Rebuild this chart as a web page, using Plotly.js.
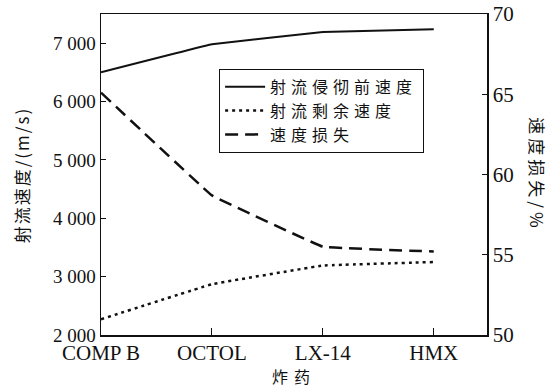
<!DOCTYPE html>
<html>
<head>
<meta charset="utf-8">
<script src="https://cdn.plot.ly/plotly-3.0.1.min.js"></script>
<style>
body { margin: 0; padding: 0; background: #fff; }
#chart { width: 555px; height: 387px; }
.legendtext { letter-spacing: 5px; }
.annotation .annotation-text { letter-spacing: 2px; }
.annotation[data-index="1"] .annotation-text { letter-spacing: 4px; }
.annotation[data-index="2"] .annotation-text { letter-spacing: 6px; }
</style>
</head>
<body>
<div id="chart"></div>
<script>
var categories = ['COMP B', 'OCTOL', 'LX-14', 'HMX'];
var jetBefore = [6500, 6980, 7190, 7240];
var jetResidual = [2270, 2870, 3190, 3250];
var speedLoss = [65.1, 58.7, 55.5, 55.2];
var leftTickVals = [2000, 3000, 4000, 5000, 6000, 7000];
var leftTickText = ['2 000', '3 000', '4 000', '5 000', '6 000', '7 000'];
var rightTickVals = [50, 55, 60, 65, 70];
var seriesNames = ['射流侵彻前速度', '射流剩余速度', '速度损失'];

var serif = 'Liberation Serif, Noto Sans CJK SC, serif';
var cjk = 'Noto Sans CJK SC, Liberation Serif, serif';
var xIdx = categories.map(function (c, i) { return i; });

var traces = [
  { x: xIdx, y: jetBefore, name: seriesNames[0], mode: 'lines', line: { color: '#111', width: 2, shape: 'spline', smoothing: 0.12 } },
  { x: xIdx, y: jetResidual, name: seriesNames[1], mode: 'lines', line: { color: '#111', width: 2.5, dash: '3px,4px', shape: 'spline', smoothing: 0.12 } },
  { x: xIdx, y: speedLoss, name: seriesNames[2], yaxis: 'y2', mode: 'lines', line: { color: '#111', width: 2.5, dash: '13px,7px', shape: 'spline', smoothing: 0.12 } }
];

var layout = {
  width: 555, height: 387,
  margin: { l: 101, r: 68, t: 14, b: 52 },
  paper_bgcolor: '#fff', plot_bgcolor: '#fff',
  font: { family: serif, color: '#111', size: 20 },
  showlegend: true,
  legend: {
    x: 0.306, y: 0.829, xanchor: 'left', yanchor: 'top',
    bordercolor: '#111', borderwidth: 1, bgcolor: '#fff',
    font: { family: cjk, size: 16, color: '#111' },
    tracegroupgap: 0, itemwidth: 40
  },
  xaxis: {
    range: [0, 3.48], tickvals: xIdx, ticktext: categories,
    showline: true, linecolor: '#111', linewidth: 1.5, mirror: true,
    ticks: 'inside', ticklen: 7, tickcolor: '#111', tickwidth: 1,
    showgrid: false, zeroline: false, ticklabelstandoff: -2,
    tickfont: { family: serif, size: 21 }
  },
  yaxis: {
    range: [2000, 7500], tickvals: leftTickVals, ticktext: leftTickText,
    showline: true, linecolor: '#111', linewidth: 1.5,
    ticks: 'inside', ticklen: 5, tickcolor: '#111', tickwidth: 1,
    showgrid: false, zeroline: false,
    tickfont: { family: serif, size: 19 }
  },
  yaxis2: {
    overlaying: 'y', side: 'right',
    range: [50, 70], tickvals: rightTickVals,
    showline: true, linecolor: '#111', linewidth: 1.5,
    ticks: 'inside', ticklen: 5, tickcolor: '#111', tickwidth: 1,
    showgrid: false, zeroline: false,
    tickfont: { family: serif, size: 21 }
  },
  annotations: [
    { text: '射流速度/(m/s)', xref: 'paper', yref: 'paper', x: -0.205, y: 0.5, textangle: -90, showarrow: false, font: { family: cjk, size: 17, color: '#111' }, xanchor: 'center', yanchor: 'middle' },
    { text: '速度损失/%', xref: 'paper', yref: 'paper', x: 1.13, y: 0.5, textangle: 90, showarrow: false, font: { family: cjk, size: 17, color: '#111' }, xanchor: 'center', yanchor: 'middle' },
    { text: '炸药', xref: 'paper', yref: 'paper', x: 0.5, y: -0.128, showarrow: false, font: { family: cjk, size: 16, color: '#111' }, xanchor: 'center', yanchor: 'middle' }
  ]
};

Plotly.newPlot('chart', traces, layout, { displayModeBar: false, staticPlot: true });
</script>
</body>
</html>
